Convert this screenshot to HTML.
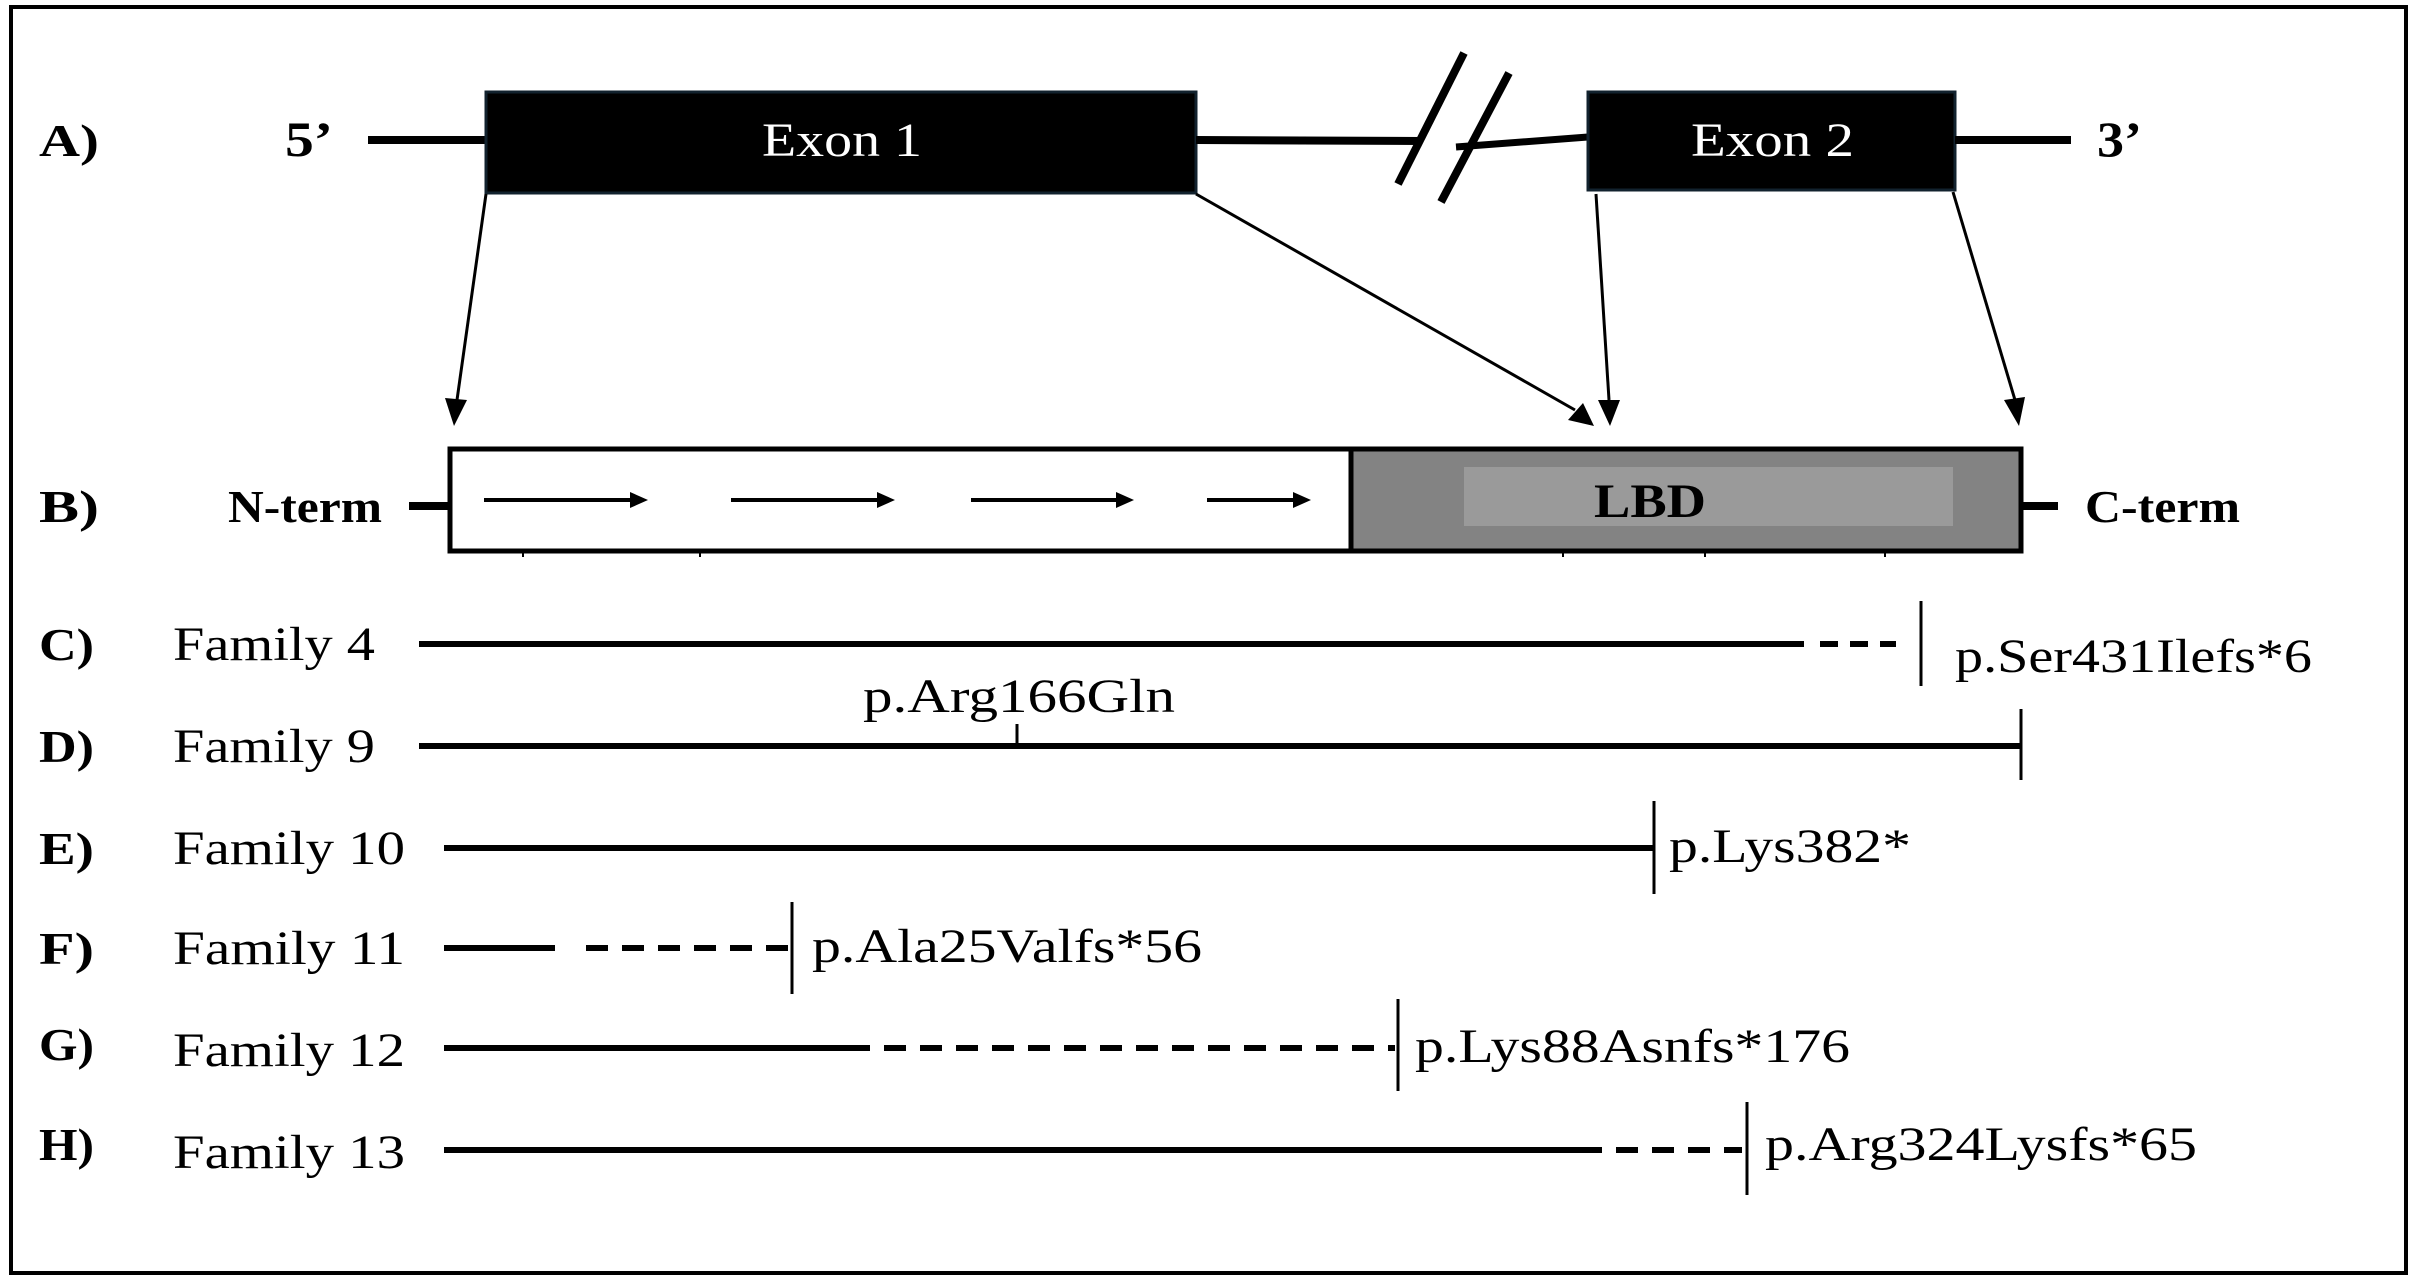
<!DOCTYPE html>
<html><head><meta charset="utf-8"><style>
html,body{margin:0;padding:0;background:#fff;}
svg{display:block;}
text{font-family:"Liberation Serif",serif;fill:#000;}
</style></head><body>
<svg width="2417" height="1282" viewBox="0 0 2417 1282" xmlns="http://www.w3.org/2000/svg">
<defs>
<marker id="ah" markerWidth="10" markerHeight="10" refX="9" refY="5" orient="auto" markerUnits="userSpaceOnUse" viewBox="0 0 10 10">
</marker>
</defs>
<rect x="11" y="7" width="2395" height="1266" fill="none" stroke="#000" stroke-width="4"/>

<!-- A -->
<text x="39" y="156" font-size="46" font-weight="bold" textLength="60" lengthAdjust="spacingAndGlyphs">A)</text>
<text x="285" y="156" font-size="50" font-weight="bold" textLength="48" lengthAdjust="spacingAndGlyphs">5’</text>
<line x1="368" y1="140" x2="486" y2="140" stroke="#000" stroke-width="8"/>
<rect x="486" y="92" width="710" height="101" fill="#000" stroke="#12222e" stroke-width="3"/>
<text x="762" y="156" font-size="48" fill="#fff" style="fill:#fff" textLength="160" lengthAdjust="spacingAndGlyphs">Exon 1</text>
<line x1="1196" y1="140" x2="1422" y2="141" stroke="#000" stroke-width="8"/>
<line x1="1456" y1="147" x2="1588" y2="137" stroke="#000" stroke-width="7"/>
<line x1="1464" y1="53" x2="1398" y2="184" stroke="#000" stroke-width="8"/>
<line x1="1509" y1="73" x2="1441" y2="202" stroke="#000" stroke-width="8"/>
<rect x="1588" y="92" width="367" height="98" fill="#000" stroke="#12222e" stroke-width="3"/>
<text x="1691" y="156" font-size="48" style="fill:#fff" textLength="163" lengthAdjust="spacingAndGlyphs">Exon 2</text>
<line x1="1955" y1="140" x2="2071" y2="140" stroke="#000" stroke-width="8"/>
<text x="2097" y="156" font-size="50" font-weight="bold" textLength="45" lengthAdjust="spacingAndGlyphs">3’</text>

<!-- connector arrows -->
<g stroke="#000" stroke-width="3">
<line x1="486" y1="194" x2="457" y2="400"/>
<line x1="1196" y1="194" x2="1575" y2="410"/>
<line x1="1596" y1="194" x2="1609" y2="400"/>
<line x1="1953" y1="192" x2="2015" y2="400"/>
</g>
<polygon points="445,398 467,400 454,426" fill="#000"/>
<polygon points="1568,420 1583,403 1594,426" fill="#000"/>
<polygon points="1598,400 1620,400 1610,426" fill="#000"/>
<polygon points="2004,400 2025,397 2019,426" fill="#000"/>

<!-- B -->
<text x="39" y="522" font-size="46" font-weight="bold" textLength="60" lengthAdjust="spacingAndGlyphs">B)</text>
<text x="228" y="522" font-size="46" font-weight="bold" textLength="154" lengthAdjust="spacingAndGlyphs">N-term</text>
<line x1="409" y1="506" x2="450" y2="506" stroke="#000" stroke-width="8"/>
<rect x="450" y="449" width="901" height="102" fill="#fff" stroke="#000" stroke-width="5"/>
<rect x="1351" y="449" width="670" height="102" fill="#838383" stroke="#000" stroke-width="5"/>
<rect x="1464" y="467" width="489" height="59" fill="#9a9a9a"/>
<text x="1594" y="517" font-size="48" font-weight="bold" textLength="112" lengthAdjust="spacingAndGlyphs">LBD</text>
<line x1="2021" y1="506" x2="2058" y2="506" stroke="#000" stroke-width="8"/>
<text x="2085" y="522" font-size="46" font-weight="bold" textLength="155" lengthAdjust="spacingAndGlyphs">C-term</text>
<g stroke="#000" stroke-width="4">
<line x1="484" y1="500" x2="632" y2="500"/>
<line x1="731" y1="500" x2="879" y2="500"/>
<line x1="971" y1="500" x2="1118" y2="500"/>
<line x1="1207" y1="500" x2="1295" y2="500"/>
</g>
<g fill="#000">
<polygon points="630,492 648,500 630,508"/>
<polygon points="877,492 895,500 877,508"/>
<polygon points="1116,492 1134,500 1116,508"/>
<polygon points="1293,492 1311,500 1293,508"/>
</g>
<g stroke="#000" stroke-width="2">
<line x1="523" y1="551" x2="523" y2="557"/>
<line x1="700" y1="551" x2="700" y2="557"/>
<line x1="1563" y1="551" x2="1563" y2="557"/>
<line x1="1705" y1="551" x2="1705" y2="557"/>
<line x1="1885" y1="551" x2="1885" y2="557"/>
</g>

<!-- rows -->
<g font-size="48">
<text x="39" y="660" font-weight="bold" font-size="46" textLength="55" lengthAdjust="spacingAndGlyphs">C)</text>
<text x="173" y="660" textLength="202" lengthAdjust="spacingAndGlyphs">Family 4</text>
<text x="1955" y="672" textLength="357" lengthAdjust="spacingAndGlyphs">p.Ser431Ilefs*6</text>

<text x="39" y="762" font-weight="bold" font-size="46" textLength="55" lengthAdjust="spacingAndGlyphs">D)</text>
<text x="173" y="762" textLength="202" lengthAdjust="spacingAndGlyphs">Family 9</text>
<text x="863" y="712" textLength="312" lengthAdjust="spacingAndGlyphs">p.Arg166Gln</text>

<text x="39" y="864" font-weight="bold" font-size="46" textLength="55" lengthAdjust="spacingAndGlyphs">E)</text>
<text x="173" y="864" textLength="232" lengthAdjust="spacingAndGlyphs">Family 10</text>
<text x="1669" y="862" textLength="242" lengthAdjust="spacingAndGlyphs">p.Lys382*</text>

<text x="39" y="964" font-weight="bold" font-size="46" textLength="55" lengthAdjust="spacingAndGlyphs">F)</text>
<text x="173" y="964" textLength="232" lengthAdjust="spacingAndGlyphs">Family 11</text>
<text x="812" y="962" textLength="390" lengthAdjust="spacingAndGlyphs">p.Ala25Valfs*56</text>

<text x="39" y="1060" font-weight="bold" font-size="46" textLength="55" lengthAdjust="spacingAndGlyphs">G)</text>
<text x="173" y="1066" textLength="232" lengthAdjust="spacingAndGlyphs">Family 12</text>
<text x="1415" y="1062" textLength="435" lengthAdjust="spacingAndGlyphs">p.Lys88Asnfs*176</text>

<text x="39" y="1160" font-weight="bold" font-size="46" textLength="55" lengthAdjust="spacingAndGlyphs">H)</text>
<text x="173" y="1168" textLength="232" lengthAdjust="spacingAndGlyphs">Family 13</text>
<text x="1765" y="1160" textLength="432" lengthAdjust="spacingAndGlyphs">p.Arg324Lysfs*65</text>
</g>

<g stroke="#000" stroke-width="6">
<line x1="419" y1="644" x2="1804" y2="644"/>
<line x1="1820" y1="644" x2="1896" y2="644" stroke-dasharray="18,12"/>
<line x1="419" y1="746" x2="2021" y2="746"/>
<line x1="444" y1="848" x2="1654" y2="848"/>
<line x1="444" y1="948" x2="555" y2="948"/>
<line x1="586" y1="948" x2="789" y2="948" stroke-dasharray="22,14"/>
<line x1="444" y1="1048" x2="848" y2="1048"/>
<line x1="848" y1="1048" x2="1395" y2="1048" stroke-dasharray="22,14"/>
<line x1="444" y1="1150" x2="1580" y2="1150"/>
<line x1="1580" y1="1150" x2="1742" y2="1150" stroke-dasharray="22,14"/>
</g>
<g stroke="#000" stroke-width="3">
<line x1="1921" y1="601" x2="1921" y2="686"/>
<line x1="2021" y1="709" x2="2021" y2="780"/>
<line x1="1017" y1="724" x2="1017" y2="746"/>
<line x1="1654" y1="801" x2="1654" y2="894"/>
<line x1="792" y1="902" x2="792" y2="994"/>
<line x1="1398" y1="999" x2="1398" y2="1091"/>
<line x1="1747" y1="1102" x2="1747" y2="1195"/>
</g>
</svg>
</body></html>
